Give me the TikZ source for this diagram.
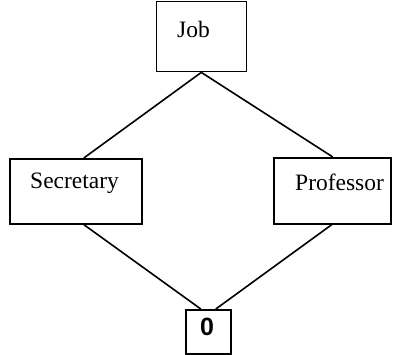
\documentclass[tikz,border=0pt]{standalone}
\usepackage{fontspec}
\setmainfont{Liberation Serif}
\newfontfamily\zerofont{Liberation Sans}
\begin{document}
\begin{tikzpicture}[x=1pt,y=-1pt,
  box/.style={draw=black,line width=1.6pt,inner sep=0pt,anchor=north west},
  lbl/.style={font=\fontsize{23.5}{26}\selectfont,inner sep=0pt,anchor=base west},
  link/.style={draw=black,line width=1.6pt}]
\useasboundingbox (0,0) rectangle (399,354);
% boxes
\node[box,minimum width=90pt,minimum height=70pt] (job) at (155.5,0.8) {};
\node[box,minimum width=132pt,minimum height=65pt] (sec) at (9,158) {};
\node[box,minimum width=117pt,minimum height=66pt] (prof) at (273,157) {};
\node[box,minimum width=45pt,minimum height=44pt] (zero) at (185,309) {};
% labels
\node[lbl] (jobt) at (177,37) {Job};
\node[lbl] (sect) at (30,188) {Secretary};
\node[lbl] (proft) at (295,190) {Professor};
\node[inner sep=0pt,anchor=base,font=\zerofont\bfseries\fontsize{25}{28}\selectfont] (zerot) at (207,335) {0};
% connector end points on the box edges
\coordinate (secTop) at ([xshift=8pt]sec.north);
\coordinate (secBot) at ([xshift=8pt]sec.south);
\coordinate (profTop) at ([xshift=0.5pt]prof.north);
\coordinate (profBot) at ([xshift=-0.5pt]prof.south);
\coordinate (zeroL) at ([xshift=-7.5pt]zero.north);
\coordinate (zeroR) at ([xshift=7.5pt]zero.north);
% connectors
\draw[link] (job.south) -- (secTop);
\draw[link] (job.south) -- (profTop);
\draw[link] (secBot) -- (zeroL);
\draw[link] (profBot) -- (zeroR);
\end{tikzpicture}
\end{document}
